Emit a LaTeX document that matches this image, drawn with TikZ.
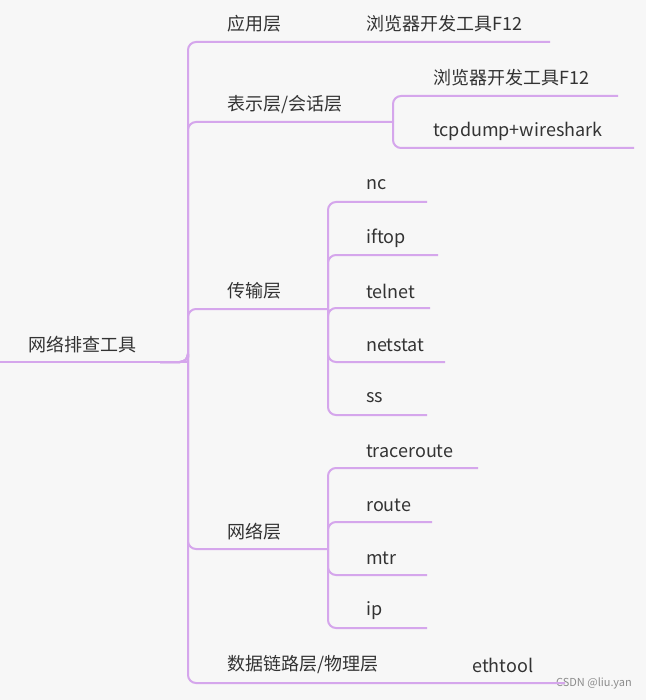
\documentclass[tikz,border=0pt]{standalone}
\usepackage{fontspec}
\setmainfont{Noto Sans CJK SC}
\begin{document}
\begin{tikzpicture}[x=1pt,y=-1pt,
  br/.style={draw=lc,line width=2pt,rounded corners=8pt},
  t/.style={anchor=west,inner sep=0pt,font=\fontsize{18}{20}\selectfont,text=black!80}]
\definecolor{lc}{HTML}{D5A6EC}
\fill[black!3] (0,0) rectangle (646,700);
\useasboundingbox (0,0) rectangle (646,700);
% texts
\node[t] (root) at (28,345) {网络排查工具};
\node[t] (l1) at (227,24) {应用层};
\node[t] (l1a) at (366,24) {浏览器开发工具F12};
\node[t] (l2) at (227,105) {表示层/会话层};
\node[t] (l2a) at (433,78) {浏览器开发工具F12};
\node[t] (l2b) at (433,131) {tcpdump+wireshark};
\node[t] (l3) at (227,291) {传输层};
\node[t] (l3a) at (366,185) {nc};
\node[t] (l3b) at (366,238) {iftop};
\node[t] (l3c) at (366,291) {telnet};
\node[t] (l3d) at (366,345) {netstat};
\node[t] (l3e) at (366,398) {ss};
\node[t] (l4) at (227,532) {网络层};
\node[t] (l4a) at (366,451) {traceroute};
\node[t] (l4b) at (366,505) {route};
\node[t] (l4c) at (366,558) {mtr};
\node[t] (l4d) at (366,611) {ip};
\node[t] (l5) at (227,665) {数据链路层/物理层};
\node[t] (l5a) at (472,665) {ethtool};
\node[anchor=east,inner sep=0pt,font=\fontsize{11}{12}\selectfont,text=black!45] (wm) at (632,683) {CSDN @liu.yan};
% coordinates
\coordinate (r0) at (0,362);
\coordinate (r1) at (160,362);
\coordinate (tr) at (188,362);
\coordinate (e1) at (550,42);
\coordinate (j2) at (393,122);
\coordinate (e2a) at (618,96);
\coordinate (e2b) at (634,148);
\coordinate (j3) at (328,309);
\coordinate (j4) at (328,549);
\coordinate (e5) at (565,683);
% root and trunk
\draw[br] (r0) -- (r1) -- (tr);
\draw[br] (r1) -| (tr) |- (e1);
\draw[br] (r1) -| (tr) |- (j2);
\draw[br] (r1) -| (tr) |- (j3);
\draw[br] (r1) -| (tr) |- (j4);
\draw[br] (r1) -| (tr) |- (e5);
% level 2
\draw[br] (j2) |- (e2a);
\draw[br] (j2) |- (e2b);
\draw[br] (300,309) -- (j3);
\foreach \y/\e in {202/427,255/438,308/430,362/445,415/427}
  \draw[br] (j3) |- (\e,\y);
\draw[br] (300,549) -- (j4);
\foreach \y/\e in {468/478,522/432,575/427,628/427}
  \draw[br] (j4) |- (\e,\y);
\end{tikzpicture}
\end{document}
